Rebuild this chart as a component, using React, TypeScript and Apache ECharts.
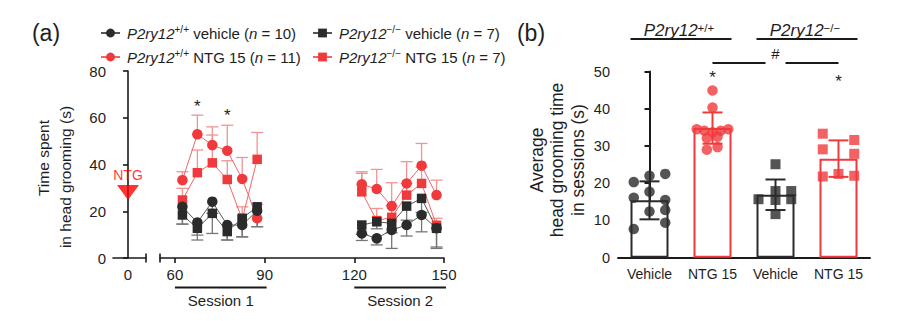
import React, { useEffect, useRef } from 'react';
import * as echarts from 'echarts';

const FONT = "'Liberation Sans', Arial, Helvetica, sans-serif";
const RED = '#f0393c';
const RED_LINE = '#f26565';
const RED_ERR = '#f39393';
const DARK = '#2b2b2b';
const DARK_LINE = '#555555';
const DARK_ERR = '#777777';
const AXIS = '#1a1a1a';
const TXT = '#1e1e1e';

// ---------- Panel (a) data ----------
const TIMES = [62.5, 67.5, 72.5, 77.5, 82.5, 87.5, 122.5, 127.5, 132.5, 137.5, 142.5, 147.5];
const SESSION_GAP_X = 105; // empty point that breaks the line between sessions
const X_TICKS_A = [60, 90, 120, 150];
const SESSIONS = [
  { name: 'Session 1', from: 60, to: 90 },
  { name: 'Session 2', from: 120, to: 150 },
];
const WT_VEH = [21.9, 15.2, 24.1, 14.1, 14.1, 20.2, 10.5, 8.4, 12.0, 14.1, 18.4, 12.7];
const WT_VEH_ERR = [7.4, 5.4, 5.0, 6.4, 5.0, 6.8, 3.0, 2.8, 7.9, 4.7, 7.2, 8.6];
const KO_VEH = [18.4, 12.7, 19.1, 11.3, 17.0, 21.9, 14.1, 15.5, 14.8, 22.2, 25.5, 12.7];
const KO_VEH_ERR = [3.9, 5.0, 8.6, 3.6, 8.0, 8.5, 4.0, 3.0, 4.0, 6.0, 6.0, 8.0];
const WT_NTG = [33.3, 52.9, 48.3, 45.9, 33.8, 17.0, 31.5, 29.5, 22.2, 31.9, 39.5, 26.9];
const WT_NTG_ERR = [3.6, 8.2, 7.8, 10.9, 9.2, 6.0, 5.4, 8.4, 10.0, 9.3, 9.5, 6.4];
const KO_NTG = [24.8, 36.5, 40.7, 33.6, 16.5, 42.2, 28.3, 16.0, 17.4, 26.9, 31.9, 14.0];
const KO_NTG_ERR = [5.0, 9.7, 11.9, 8.0, 5.4, 11.5, 7.9, 5.2, 5.0, 5.0, 7.0, 3.0];
const NTG_TIME = 0;
const NTG_MARK_Y = 28;
const STARS_A = [
  [67.5, 66.5],
  [77.5, 62.5],
];

const N_WT_VEH = 'wtVeh';
const N_KO_VEH = 'koVeh';
const N_WT_NTG = 'wtNtg';
const N_KO_NTG = 'koNtg';
const LEGEND_TEXT: Record<string, string> = {
  wtVeh: '{it|P2ry12}{sup|+/+} vehicle ({it|n} = 10)',
  koVeh: '{it|P2ry12}{sup|\u2212/\u2212} vehicle ({it|n} = 7)',
  wtNtg: '{it|P2ry12}{sup|+/+} NTG 15 ({it|n} = 11)',
  koNtg: '{it|P2ry12}{sup|\u2212/\u2212} NTG 15 ({it|n} = 7)',
};

// ---------- Panel (b) data ----------
const B_CATS = ['Vehicle', 'NTG 15', 'Vehicle', 'NTG 15'];
const B_MEANS = [15.4, 34.8, 16.9, 26.6];
const B_SD = [5.1, 4.2, 4.1, 4.9];
const B_WT_VEH = [20.3, 22.0, 22.5, 17.7, 16.1, 15.5, 12.4, 12.8, 9.4, 7.7];
const B_WT_VEH_JIT = [-0.25, 0, 0.25, 0, -0.25, 0.25, 0, 0.25, 0.25, -0.25];
const B_WT_NTG = [44.9, 40.3, 34.5, 34.1, 33.7, 34.1, 34.5, 32.1, 32.5, 29.0, 29.7];
const B_WT_NTG_JIT = [0, 0, -0.25, -0.13, 0, 0.13, 0.25, -0.09, 0.08, -0.09, 0.08];
const B_KO_VEH = [25.1, 15.7, 17.9, 17.9, 15.5, 15.7, 11.7];
const B_KO_VEH_JIT = [0, -0.27, 0, 0.25, 0, 0.25, 0];
const B_KO_NTG = [33.3, 31.6, 29.1, 27.9, 21.8, 22.5, 22.0];
const B_KO_NTG_JIT = [-0.25, 0.25, -0.25, 0.25, -0.25, 0, 0.25];
const B_STARS = [
  [1, 49.4],
  [3, 48.3],
];
const B_HASH_Y = 52.3;
const GROUP_HEADERS = [
  { text: '{it|P2ry12}{sup|+/+}', from: 0, to: 1 },
  { text: '{it|P2ry12}{sup|\u2212/\u2212}', from: 2, to: 3 },
];

const withGap = (ys: number[]) => {
  const out: any[] = [];
  TIMES.forEach((t, i) => {
    if (i === 6) out.push([SESSION_GAP_X, '-']);
    out.push([t, ys[i]]);
  });
  return out;
};

const errRender = (dir: 'up' | 'down' | 'both', color: string, cap: number, lw: number) =>
  (params: any, api: any) => {
    const x = api.value(0);
    const y = api.value(1);
    const e = api.value(2);
    const lo = dir === 'up' ? y : y - e;
    const hi = dir === 'down' ? y : y + e;
    const pLo = api.coord([x, lo]);
    const pHi = api.coord([x, hi]);
    const style = { stroke: color, lineWidth: lw };
    const children: any[] = [
      { type: 'line', shape: { x1: pLo[0], y1: pLo[1], x2: pHi[0], y2: pHi[1] }, style },
    ];
    if (dir !== 'down') children.push({ type: 'line', shape: { x1: pHi[0] - cap / 2, y1: pHi[1], x2: pHi[0] + cap / 2, y2: pHi[1] }, style });
    if (dir !== 'up') children.push({ type: 'line', shape: { x1: pLo[0] - cap / 2, y1: pLo[1], x2: pLo[0] + cap / 2, y2: pLo[1] }, style });
    return { type: 'group', children };
  };

const errSeriesA = (ys: number[], errs: number[], dir: 'up' | 'down', color: string) => ({
  type: 'custom',
  xAxisIndex: 1,
  yAxisIndex: 1,
  silent: true,
  data: TIMES.map((t, i) => [t, ys[i], errs[i]]),
  encode: { x: 0, y: 1 },
  renderItem: errRender(dir, color, 12, 1.3),
});

const lineSeriesA = (name: string, ys: number[], symbol: string, size: number, color: string, lineColor: string) => ({
  type: 'line',
  name,
  xAxisIndex: 1,
  yAxisIndex: 1,
  data: withGap(ys),
  symbol,
  symbolSize: size,
  connectNulls: false,
  itemStyle: { color },
  lineStyle: { color: lineColor, width: 1 },
  emphasis: { disabled: true },
});

const scatterB = (vals: number[], jit: number[], idx: number, symbol: string, color: string) => ({
  type: 'scatter',
  xAxisIndex: 3,
  yAxisIndex: 2,
  data: vals.map((v, i) => [idx + jit[i], v]),
  symbol,
  symbolSize: symbol === 'circle' ? 10.5 : 10,
  itemStyle: { color },
  z: 5,
});

const B_COLORS = [DARK, RED, DARK, RED];
const B_SYMBOLS = ['circle', 'circle', 'rect', 'rect'];

const richBase = {
  it: { fontStyle: 'italic', fontFamily: FONT, fontSize: 15, color: TXT },
  sup: { fontFamily: FONT, fontSize: 10, color: TXT, verticalAlign: 'top' },
};

export default function App() {
  const ref = useRef<HTMLDivElement>(null);
  useEffect(() => {
    if (!ref.current) return;
    const chart = echarts.init(ref.current, null, { renderer: 'svg' });
    const axisLine = { show: true, lineStyle: { color: AXIS, width: 1.6 } };
    const legendCommon = {
      orient: 'vertical', top: 19, itemGap: 6, itemWidth: 19, itemHeight: 11,
      selectedMode: false,
      formatter: (n: string) => LEGEND_TEXT[n],
      textStyle: { fontFamily: FONT, fontSize: 15, color: TXT, lineHeight: 18, padding: [0, 0, 0, 2], rich: richBase },
    };
    const option: any = {
      animation: false,
      textStyle: { fontFamily: FONT },
      grid: [
        { left: 113, top: 71, width: 33, height: 187 },
        { left: 160, top: 71, width: 284, height: 187 },
        { left: 618, top: 71.5, width: 252, height: 186.2 },
      ],
      legend: [
        { ...legendCommon, left: 95, data: [N_WT_VEH, N_WT_NTG] },
        { ...legendCommon, left: 307, data: [N_KO_VEH, N_KO_NTG] },
      ],
      xAxis: [
        {
          gridIndex: 0, type: 'value', min: -5, max: 6,
          axisLine, axisTick: { show: false }, splitLine: { show: false },
          axisLabel: { customValues: [NTG_TIME], fontSize: 15, color: TXT, margin: 9 },
        },
        {
          gridIndex: 1, type: 'value', min: 55, max: 150,
          axisLine, splitLine: { show: false },
          axisTick: { customValues: X_TICKS_A, length: 5, lineStyle: { color: AXIS, width: 1.6 } },
          axisLabel: { customValues: X_TICKS_A, fontSize: 15, color: TXT, margin: 9 },
        },
        {
          gridIndex: 2, type: 'category', data: B_CATS.map((c, i) => c + '#' + i),
          axisLine: { show: true, lineStyle: { color: AXIS, width: 2 } },
          axisTick: { show: false },
          axisLabel: { interval: 0, formatter: (v: string) => v.split('#')[0], fontSize: 14, color: TXT, margin: 9 },
        },
        { gridIndex: 2, type: 'value', min: -0.5, max: 3.5, show: false, position: 'top' },
      ],
      yAxis: [
        {
          gridIndex: 0, type: 'value', min: 0, max: 80, interval: 20,
          axisLine, splitLine: { show: false },
          axisTick: { show: true, length: 5, lineStyle: { color: AXIS, width: 1.6 } },
          axisLabel: { fontSize: 15, color: TXT, margin: 7 },
        },
        { gridIndex: 1, type: 'value', min: 0, max: 80, interval: 20, show: false },
        {
          gridIndex: 2, type: 'value', min: 0, max: 50, interval: 10,
          axisLine: { show: true, lineStyle: { color: AXIS, width: 2 } }, splitLine: { show: false },
          axisTick: { show: true, length: 5, lineStyle: { color: AXIS, width: 2 } },
          axisLabel: { fontSize: 14.5, color: TXT, margin: 8 },
        },
      ],
      series: [
        // NTG injection marker
        {
          type: 'scatter', xAxisIndex: 0, yAxisIndex: 0,
          data: [[NTG_TIME, NTG_MARK_Y]],
          symbol: 'triangle', symbolRotate: 180, symbolSize: [22, 15],
          itemStyle: { color: '#ff0000' },
          label: { show: true, position: 'top', distance: 3, formatter: 'NTG', color: '#ff0000', fontSize: 14, fontFamily: FONT },
        },
        errSeriesA(KO_NTG, KO_NTG_ERR, 'up', RED_ERR),
        lineSeriesA(N_KO_NTG, KO_NTG, 'rect', 9.5, RED, RED_LINE),
        errSeriesA(WT_NTG, WT_NTG_ERR, 'up', RED_ERR),
        lineSeriesA(N_WT_NTG, WT_NTG, 'circle', 10.5, RED, RED_LINE),
        errSeriesA(KO_VEH, KO_VEH_ERR, 'down', DARK_ERR),
        lineSeriesA(N_KO_VEH, KO_VEH, 'rect', 9.5, DARK, DARK_LINE),
        errSeriesA(WT_VEH, WT_VEH_ERR, 'down', DARK_ERR),
        lineSeriesA(N_WT_VEH, WT_VEH, 'circle', 10.5, DARK, DARK_LINE),
        // Panel (b)
        {
          type: 'bar', xAxisIndex: 2, yAxisIndex: 2, barWidth: 38,
          data: B_MEANS.map((v, i) => ({ value: v, itemStyle: { color: '#ffffff', borderColor: B_COLORS[i], borderWidth: 2 } })),
          z: 2,
        },
        scatterB(B_WT_VEH, B_WT_VEH_JIT, 0, B_SYMBOLS[0], B_COLORS[0]),
        scatterB(B_WT_NTG, B_WT_NTG_JIT, 1, B_SYMBOLS[1], B_COLORS[1]),
        scatterB(B_KO_VEH, B_KO_VEH_JIT, 2, B_SYMBOLS[2], B_COLORS[2]),
        scatterB(B_KO_NTG, B_KO_NTG_JIT, 3, B_SYMBOLS[3], B_COLORS[3]),
        ...B_MEANS.map((m, i) => ({
          type: 'custom', xAxisIndex: 3, yAxisIndex: 2, silent: true, z: 6,
          data: [[i, m, B_SD[i]]],
          encode: { x: 0, y: 1 },
          renderItem: errRender('both', B_COLORS[i], 20, 2),
        })),
      ],
    };
    chart.setOption(option);

    const pA = (x: number, y: number) => chart.convertToPixel({ xAxisIndex: 1, yAxisIndex: 1 } as any, [x, y]) as number[];
    const pA0 = (x: number, y: number) => chart.convertToPixel({ xAxisIndex: 0, yAxisIndex: 0 } as any, [x, y]) as number[];
    const pB = (x: number, y: number) => chart.convertToPixel({ xAxisIndex: 3, yAxisIndex: 2 } as any, [x, y]) as number[];
    const g: any[] = [];
    const line = (x1: number, y1: number, x2: number, y2: number, w = 2, color = AXIS) =>
      g.push({ type: 'line', shape: { x1, y1, x2, y2 }, style: { stroke: color, lineWidth: w }, z: 10 });
    const text = (x: number, y: number, t: string, fontSize: number, extra: any = {}) =>
      g.push({
        type: 'text', x, y, z: 10,
        style: { text: t, fontSize, fontFamily: FONT, fill: TXT, align: 'center', verticalAlign: 'middle', ...extra },
      });

    // panel labels
    text(46, 33, '(a)', 23);
    text(531, 33, '(b)', 23);
    // y titles
    g.push({ type: 'text', x: 43, y: 158, rotation: Math.PI / 2, z: 10, style: { text: 'Time spent', fontSize: 15.5, fontFamily: FONT, fill: TXT, align: 'center', verticalAlign: 'middle' } });
    g.push({ type: 'text', x: 65, y: 177, rotation: Math.PI / 2, z: 10, style: { text: 'in head grooming (s)', fontSize: 15.5, fontFamily: FONT, fill: TXT, align: 'center', verticalAlign: 'middle' } });
    g.push({ type: 'text', x: 557, y: 160, rotation: Math.PI / 2, z: 10, style: { text: 'Average\nhead grooming time\nin sessions (s)', fontSize: 17.5, lineHeight: 20.5, fontFamily: FONT, fill: TXT, align: 'center', verticalAlign: 'middle' } });

    // axis break marks
    const e0 = pA0(6, 0);
    line(e0[0], e0[1] - 4.5, e0[0], e0[1] + 4.5, 1.6);
    const s1 = pA(55, 0);
    line(s1[0], s1[1] - 4.5, s1[0], s1[1] + 4.5, 1.6);

    // sessions
    SESSIONS.forEach((s) => {
      const a = pA(s.from, 0);
      const b = pA(s.to, 0);
      line(a[0], a[1] + 29.5, b[0] + 2, a[1] + 29.5, 2.2);
      text((a[0] + b[0]) / 2 + 1, a[1] + 42.5, s.name, 15);
    });

    // asterisks (a)
    STARS_A.forEach(([x, y]) => {
      const p = pA(x, y);
      text(p[0], p[1] + 4, '*', 17);
    });

    // panel (b) headers
    const halfBar = 19;
    GROUP_HEADERS.forEach((h) => {
      const a = pB(h.from, 0);
      const b = pB(h.to, 0);
      line(a[0] - halfBar, 39, b[0] + halfBar, 39, 2);
      g.push({
        type: 'text', x: (a[0] + b[0]) / 2 - 2, y: 30, z: 10,
        style: {
          text: h.text, align: 'center', verticalAlign: 'middle', fontFamily: FONT, fill: TXT,
          rich: {
            it: { fontStyle: 'italic', fontSize: 17, fontFamily: FONT, fill: TXT },
            sup: { fontSize: 11.5, fontFamily: FONT, fill: TXT, verticalAlign: 'top' },
          },
        },
      });
    });
    // # comparison
    const h1 = pB(1, B_HASH_Y);
    const h2 = pB(3, B_HASH_Y);
    const hm = pB(2, B_HASH_Y);
    line(h1[0], h1[1], hm[0] - 10, h1[1], 2);
    line(hm[0] + 10, h1[1], h2[0], h1[1], 2);
    text(hm[0], h1[1] - 9, '#', 15);
    B_STARS.forEach(([x, y]) => {
      const p = pB(x, y);
      text(p[0], p[1] + 4, '*', 17);
    });

    chart.setOption({ graphic: g });
    return () => chart.dispose();
  }, []);

  return <div ref={ref} style={{ position: 'fixed', left: 0, top: 0, width: 897, height: 321, background: '#fff' }} />;
}
